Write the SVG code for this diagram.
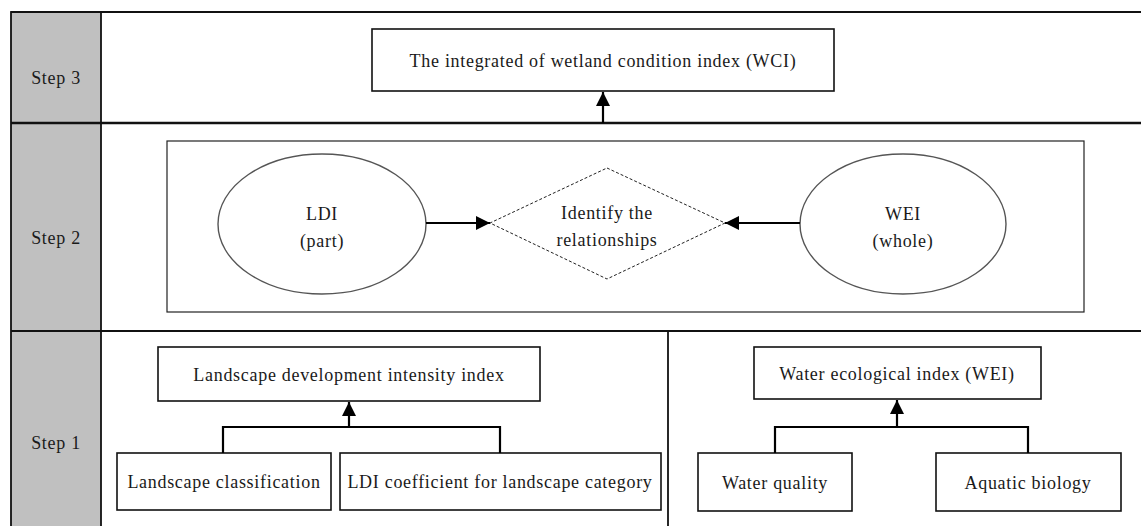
<svg xmlns="http://www.w3.org/2000/svg" width="1141" height="526" viewBox="0 0 1141 526">
<defs>
<marker id="ah" viewBox="0 0 10 10" refX="10" refY="5" markerWidth="14" markerHeight="14" markerUnits="userSpaceOnUse" orient="auto">
<path d="M0,0 L10,5 L0,10 Z" fill="#000"/>
</marker>
<style>
.t{font-family:"Liberation Serif","Times New Roman",serif;font-size:18px;letter-spacing:0.7px;fill:#1a1a1a;text-anchor:middle}
.box{fill:#fff;stroke:#111;stroke-width:1.6}
.frame{stroke:#111;stroke-width:1.8;fill:none}
.ell{fill:#fff;stroke:#555;stroke-width:1.4}
.conn{stroke:#000;stroke-width:2.2;fill:none}
</style>
</defs>
<rect width="1141" height="526" fill="#fff"/>
<g id="frame">
<rect x="11" y="12" width="90" height="520" fill="#c0c0c0" stroke="#111" stroke-width="1.8"/>
<line class="frame" x1="11" y1="12" x2="1141" y2="12"/>
<line x1="11" y1="123" x2="1141" y2="123" stroke="#111" stroke-width="2.6"/>
<line class="frame" x1="11" y1="331" x2="1141" y2="331"/>
<line class="frame" x1="668" y1="331" x2="668" y2="526"/>
<rect x="167" y="141" width="917" height="171" fill="none" stroke="#222" stroke-width="1.2"/>
</g>
<g id="step3-label"><text class="t" x="56" y="84">Step 3</text></g>
<g id="step2-label"><text class="t" x="56" y="244">Step 2</text></g>
<g id="step1-label"><text class="t" x="56" y="449">Step 1</text></g>
<g id="wci"><rect class="box" x="372" y="29" width="462" height="62"/><text class="t" x="603" y="67">The integrated of wetland condition index (WCI)</text></g>
<g id="ldi-ellipse"><ellipse class="ell" cx="322" cy="224" rx="104" ry="70"/><text class="t" x="322" y="220">LDI</text><text class="t" x="322" y="247">(part)</text></g>
<g id="wei-ellipse"><ellipse class="ell" cx="903" cy="224" rx="103" ry="70"/><text class="t" x="903" y="220">WEI</text><text class="t" x="903" y="247">(whole)</text></g>
<g id="relationships"><polygon points="607,168 725,223 607,279 490,223" fill="#fff" stroke="#222" stroke-width="1" stroke-dasharray="3,2"/><text class="t" x="607" y="219">Identify the</text><text class="t" x="607" y="246">relationships</text></g>
<g id="ldi-index"><rect class="box" x="158" y="347" width="382" height="54"/><text class="t" x="349" y="381">Landscape development intensity index</text></g>
<g id="landscape-class"><rect class="box" x="117" y="453" width="214" height="57"/><text class="t" x="224" y="488">Landscape classification</text></g>
<g id="ldi-coef"><rect class="box" x="340" y="453" width="321" height="57"/><text class="t" x="500" y="488">LDI coefficient for landscape category</text></g>
<g id="wei-index"><rect class="box" x="754" y="347" width="287" height="52"/><text class="t" x="897" y="380">Water ecological index (WEI)</text></g>
<g id="water-quality"><rect class="box" x="698" y="453" width="154" height="58"/><text class="t" x="775" y="489">Water quality</text></g>
<g id="aquatic"><rect class="box" x="936" y="453" width="185" height="58"/><text class="t" x="1028" y="489">Aquatic biology</text></g>
<g id="connectors">
<line class="conn" x1="603" y1="123" x2="603" y2="92" marker-end="url(#ah)"/>
<line class="conn" x1="426" y1="223" x2="490" y2="223" marker-end="url(#ah)"/>
<line class="conn" x1="800" y1="223" x2="725" y2="223" marker-end="url(#ah)"/>
<polyline class="conn" points="223,453 223,427 500,427 500,453"/>
<line class="conn" x1="349" y1="427" x2="349" y2="402" marker-end="url(#ah)"/>
<polyline class="conn" points="775,453 775,427 1028,427 1028,453"/>
<line class="conn" x1="897" y1="427" x2="897" y2="400" marker-end="url(#ah)"/>
</g>
</svg>
